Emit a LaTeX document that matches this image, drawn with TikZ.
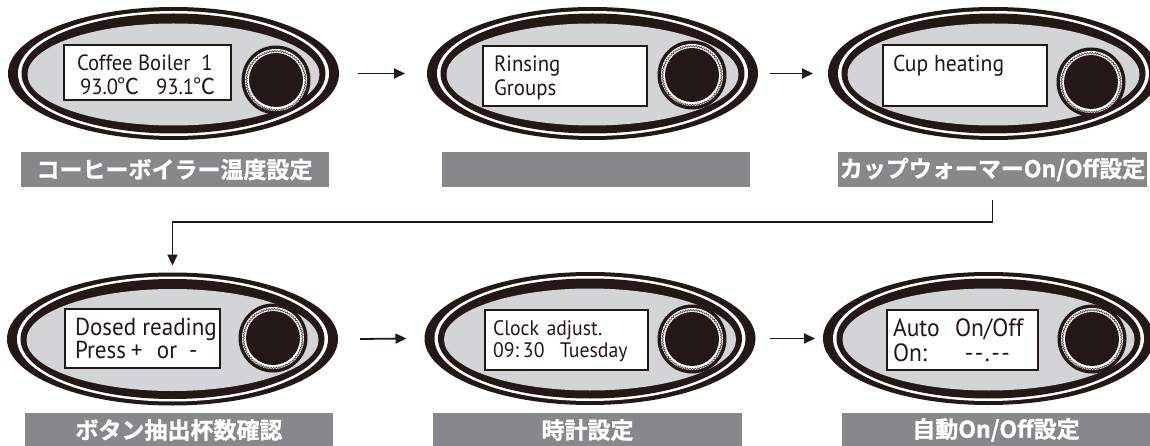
\documentclass[tikz,border=0pt]{standalone}
\usepackage{fontspec}
\setmainfont{PT Sans}[FakeStretch=0.94]
\newfontfamily\jp{Noto Sans CJK JP}[BoldFont={Noto Sans CJK JP Bold}, BoldFeatures={FakeBold=1}]
\usetikzlibrary{shapes.geometric,arrows.meta,decorations.pathmorphing}
\definecolor{ink}{HTML}{231815}
\definecolor{panelgray}{HTML}{D3D4D5}
\definecolor{bargray}{HTML}{87888A}
\tikzset{
  arr/.style={draw=ink, line width=1.8pt, -{Triangle[length=11pt,width=10pt]}},
  bar/.style={fill=bargray, minimum width=308pt, minimum height=35pt, inner sep=0pt, outer sep=0pt,
              text=white, font=\jp\bfseries\fontsize{23}{23}\selectfont},
  screen/.style={draw=ink, fill=white, line width=2pt},
  scrtext/.style={anchor=base west, inner sep=0pt, outer sep=0pt, text=ink},
  shell/.style={ellipse, fill=ink, minimum width=331pt, minimum height=133pt, inner sep=0pt, outer sep=0pt},
  knobbody/.style={circle, fill=ink, minimum size=69pt, inner sep=0pt, outer sep=0pt},
}
\newcommand\panel[3]{% name, cx, cy
  \node[shell] (#1) at (#2,#3) {};
  \fill[white] (#2,#3) ellipse [x radius=155.5, y radius=62.5];
  \fill[ink] (#2,#3) ellipse [x radius=152, y radius=60];
  \fill[panelgray] (#2,#3+1) ellipse [x radius=146, y radius=51];
}
\newcommand\knob[3]{% name, x, y
  \node[knobbody] (#1) at (#2,#3) {};
  \fill[white] (#2,#3) circle [radius=31];
  \draw[ink!75, line width=0.7pt, decorate, decoration={snake, amplitude=0.8pt, segment length=2.6pt}] (#2,#3) circle [radius=29.5];
  \fill[ink] (#2,#3) circle [radius=27];
}
\newcommand\degc{{\jp\kern-0.5pt ℃}}
\begin{document}
\begin{tikzpicture}[x=1pt,y=-1pt]
\useasboundingbox (0,0) rectangle (1150,446);

% ---------- top row ----------
\panel{e1}{173.5}{73.5}
\draw[screen] (64,45) rectangle (231,100);
\knob{k1}{276}{80}
\node[scrtext, font=\fontsize{22}{22}\selectfont] (t1a) at (77,70.5) {\makebox[124.5pt][l]{Coffee Boiler}1};
\node[scrtext, font=\fontsize{22}{22}\selectfont] (t1b) at (80,94.5) {\makebox[76pt][l]{93.0\degc}93.1\degc};
\node[bar] (l1) at (174.5,169.5) {コーヒーボイラー温度設定};

\panel{e2}{592.5}{73.5}
\draw[screen] (483,46) rectangle (647,106);
\knob{k2}{692}{75}
\node[scrtext, font=\fontsize{22.2}{22.2}\selectfont] (t2a) at (494,71.5) {Rinsing};
\node[scrtext, font=\fontsize{22.2}{22.2}\selectfont] (t2b) at (494,96) {Groups};
\node[bar] (l2) at (596,169.5) {};

\panel{e3}{993.5}{73.5}
\draw[screen] (883,45) rectangle (1047,106);
\knob{k3}{1091}{82}
\node[scrtext, font=\fontsize{23}{23}\selectfont] (t3a) at (893,71.5) {Cup heating};
\node[bar, minimum width=309pt] (l3) at (992.5,169.5) {カップウォーマーOn/Off設定};

% ---------- bottom row ----------
\panel{e4}{172.5}{339}
\draw[screen] (65,309) rectangle (220,368);
\knob{k4}{273}{338}
\node[scrtext, font=\fontsize{24.5}{24.5}\selectfont] (t4a) at (75,335) {Dosed reading};
\node[scrtext, font=\fontsize{24.5}{24.5}\selectfont] (t4b) at (75,358.5) {\makebox[56pt][l]{Press}\makebox[26pt][l]{+}\makebox[32pt][l]{or}-};
\node[bar] (l4) at (179,430) {ボタン抽出杯数確認};

\panel{e5}{590}{338.5}
\draw[screen] (485,310) rectangle (648,370);
\knob{k5}{692}{339}
\node[scrtext, font=\fontsize{21}{21}\selectfont] (t5a) at (493,335) {\makebox[53.5pt][l]{Clock}adjust.};
\node[scrtext, font=\fontsize{21}{21}\selectfont] (t5b) at (493,357) {\makebox[30pt][l]{09:}\makebox[37pt][l]{30}Tuesday};
\node[bar, minimum width=309pt] (l5) at (587.5,430) {時計設定};

\panel{e6}{988.5}{338.5}
\draw[screen] (887,310) rectangle (1038,370);
\knob{k6}{1092}{339}
\node[scrtext, font=\fontsize{25}{25}\selectfont] (t6a) at (893,336.5) {\makebox[62pt][l]{Auto}On/Off};
\node[scrtext, font=\fontsize{25}{25}\selectfont] (t6b) at (893,361) {\makebox[72pt][l]{On:}-\kern1.5pt-\kern1.5pt.\kern1.5pt-\kern1.5pt-};
\node[bar, minimum width=308pt] (l6) at (996,430) {自動On/Off設定};

% ---------- connectors ----------
\draw[arr] ([xshift=19pt]e1.east) -- ([xshift=-22pt]e2.west);
\draw[arr] ([xshift=12pt]e2.east) -- ([xshift=-15pt]e3.west);
\draw[arr] ([yshift=-13pt]l3.south) |- ([yshift=50.5pt]e4.north) -- ([yshift=7pt]e4.north);
\draw[arr] ([xshift=22pt]e4.east) -- ([xshift=-18pt]e5.west);
\draw[arr] ([xshift=14pt]e5.east) -- ([xshift=-8pt]e6.west);
\end{tikzpicture}
\end{document}
